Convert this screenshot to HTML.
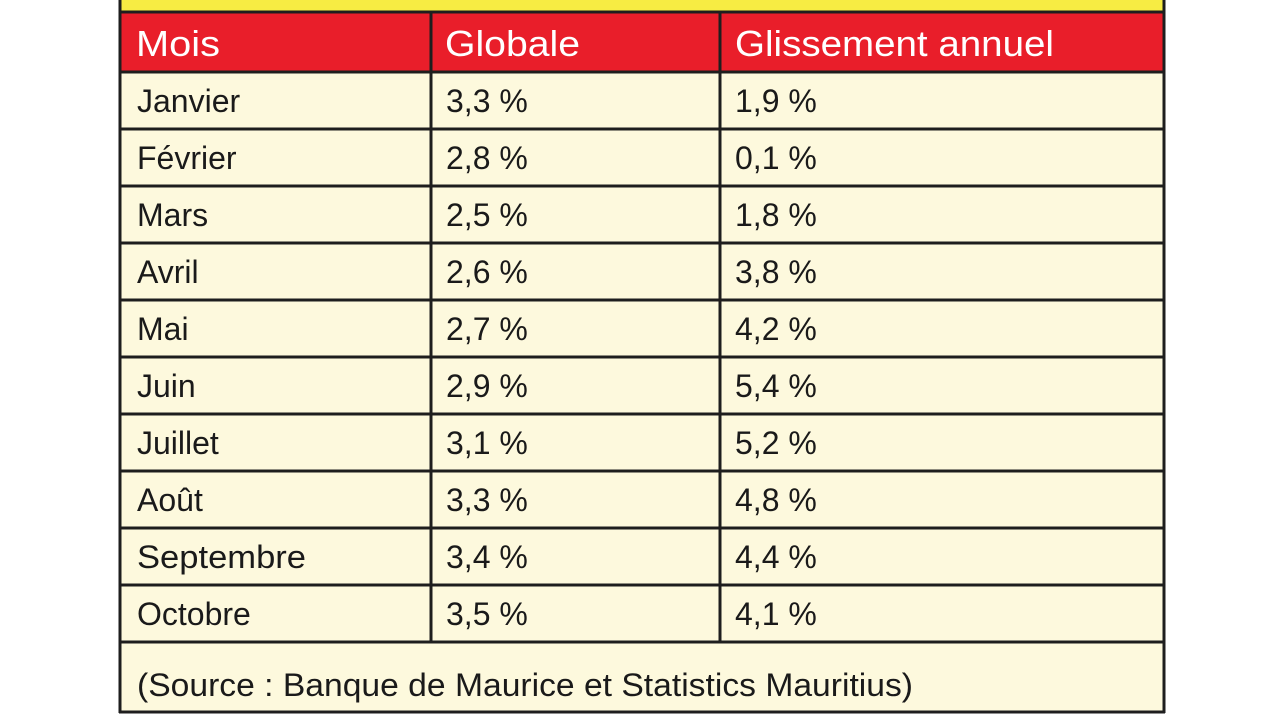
<!DOCTYPE html>
<html><head><meta charset="utf-8"><style>
html,body{margin:0;padding:0;background:#fff;width:1280px;height:720px;overflow:hidden}
svg{display:block}
text{font-family:"Liberation Sans",sans-serif}
</style></head><body>
<svg width="1280" height="720" viewBox="0 0 1280 720" xmlns="http://www.w3.org/2000/svg">
<rect x="119" y="0" width="1046" height="12" fill="#f7ec43"/>
<rect x="119" y="12" width="1046" height="60" fill="#e91e2a"/>
<rect x="119" y="72" width="1046" height="641" fill="#fdf9dd"/>
<g stroke="#1e1e1e" stroke-width="3" fill="none">
<line x1="120" y1="0" x2="120" y2="713"/>
<line x1="1164" y1="0" x2="1164" y2="713"/>
<line x1="119" y1="12" x2="1165" y2="12"/>
<line x1="119" y1="712" x2="1165" y2="712"/>
<line x1="431" y1="12" x2="431" y2="642"/>
<line x1="720" y1="12" x2="720" y2="642"/>
<line x1="119" y1="72" x2="1165" y2="72"/>
<line x1="119" y1="129" x2="1165" y2="129"/>
<line x1="119" y1="186" x2="1165" y2="186"/>
<line x1="119" y1="243" x2="1165" y2="243"/>
<line x1="119" y1="300" x2="1165" y2="300"/>
<line x1="119" y1="357" x2="1165" y2="357"/>
<line x1="119" y1="414" x2="1165" y2="414"/>
<line x1="119" y1="471" x2="1165" y2="471"/>
<line x1="119" y1="528" x2="1165" y2="528"/>
<line x1="119" y1="585" x2="1165" y2="585"/>
<line x1="119" y1="642" x2="1165" y2="642"/>
</g>
<g fill="#fff" font-size="36">
<text x="136" y="56" textLength="84" lengthAdjust="spacingAndGlyphs">Mois</text>
<text x="445" y="56" textLength="135" lengthAdjust="spacingAndGlyphs">Globale</text>
<text x="735" y="56" textLength="319" lengthAdjust="spacingAndGlyphs">Glissement annuel</text>
</g>
<g fill="#1a1a1a" font-size="32">
<text x="137" y="112">Janvier</text><text x="446" y="112">3,3 %</text><text x="735" y="112">1,9 %</text>
<text x="137" y="169">Février</text><text x="446" y="169">2,8 %</text><text x="735" y="169">0,1 %</text>
<text x="137" y="226">Mars</text><text x="446" y="226">2,5 %</text><text x="735" y="226">1,8 %</text>
<text x="137" y="283">Avril</text><text x="446" y="283">2,6 %</text><text x="735" y="283">3,8 %</text>
<text x="137" y="340">Mai</text><text x="446" y="340">2,7 %</text><text x="735" y="340">4,2 %</text>
<text x="137" y="397">Juin</text><text x="446" y="397">2,9 %</text><text x="735" y="397">5,4 %</text>
<text x="137" y="454">Juillet</text><text x="446" y="454">3,1 %</text><text x="735" y="454">5,2 %</text>
<text x="137" y="511">Août</text><text x="446" y="511">3,3 %</text><text x="735" y="511">4,8 %</text>
<text x="137" y="568" textLength="169" lengthAdjust="spacingAndGlyphs">Septembre</text><text x="446" y="568">3,4 %</text><text x="735" y="568">4,4 %</text>
<text x="137" y="625">Octobre</text><text x="446" y="625">3,5 %</text><text x="735" y="625">4,1 %</text>
<text x="137" y="696" textLength="776" lengthAdjust="spacingAndGlyphs">(Source : Banque de Maurice et Statistics Mauritius)</text>
</g>
</svg>
</body></html>
